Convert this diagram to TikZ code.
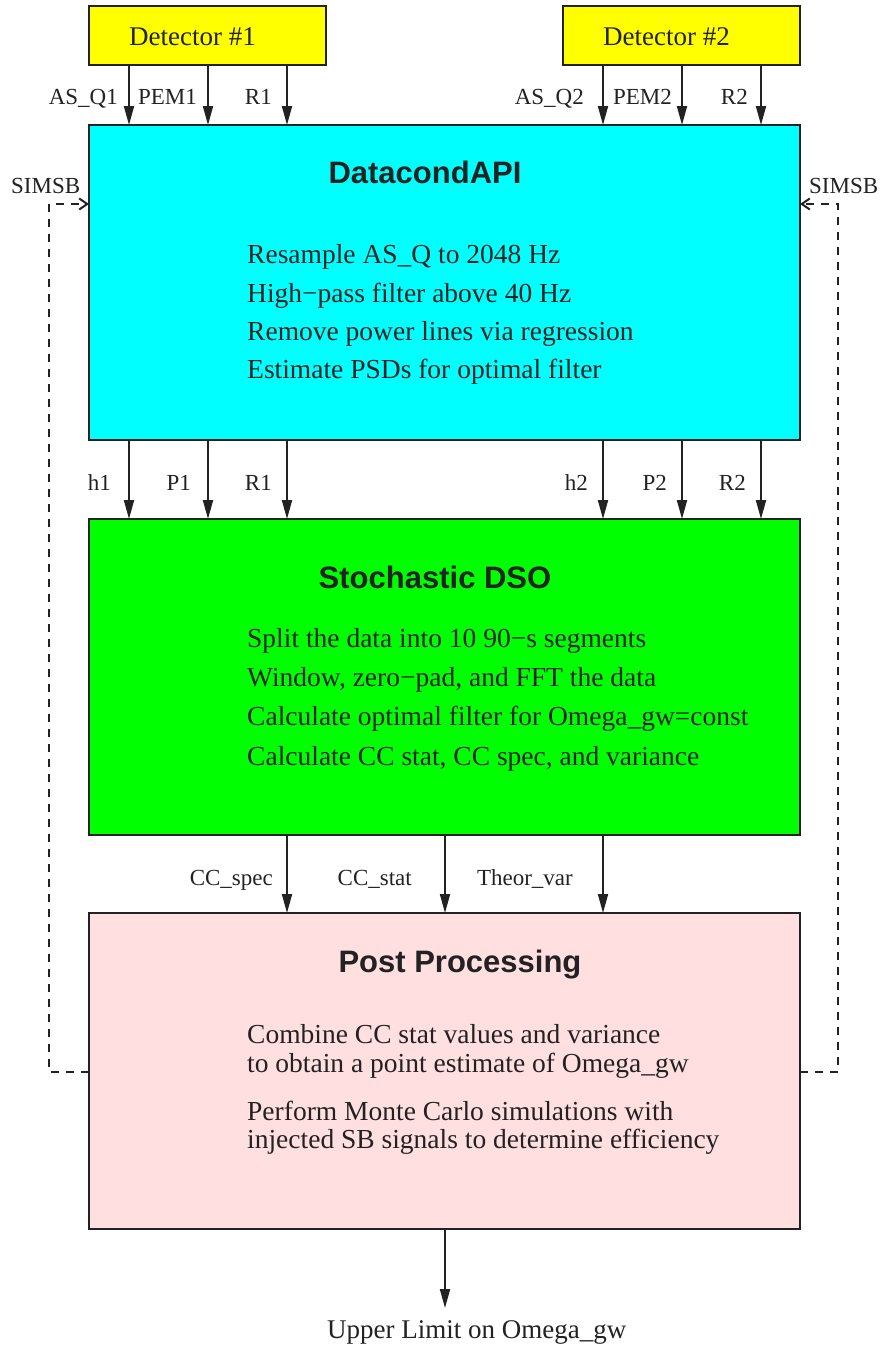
\documentclass[tikz,border=0pt]{standalone}
\usepackage{fontspec}
\setmainfont{Liberation Serif}
\newfontfamily\titlefont{Liberation Sans}
\usetikzlibrary{arrows.meta}
\definecolor{ink}{HTML}{222222}
\definecolor{cyanbox}{HTML}{00FFFF}
\definecolor{greenbox}{HTML}{00FF00}
\definecolor{pinkbox}{HTML}{FFDFE0}
\definecolor{yellowbox}{HTML}{FFFF00}
\begin{document}
\begin{tikzpicture}[x=1pt,y=-1pt,
  box/.style={draw=ink, line width=2pt, inner sep=0pt, outer sep=0pt},
  arr/.style={draw=ink, line width=2pt, -{Triangle[length=19pt,width=10pt]}},
  sim/.style={draw=ink, line width=2pt, dash pattern=on 8pt off 7pt, -{Straight Barb[length=8pt,width=11pt]}},
  lbl/.style={font=\fontsize{23}{27}\selectfont, text=ink, inner sep=0pt, anchor=base east},
  body/.style={font=\fontsize{27.5}{32}\selectfont, text=ink, inner sep=0pt, anchor=base west},
  ttl/.style={font=\titlefont\bfseries\fontsize{31}{36}\selectfont, text=ink, inner sep=0pt, anchor=base}]
\useasboundingbox (0,0) rectangle (884,1347);

% boxes
\node[box, fill=yellowbox, minimum width=237pt, minimum height=59pt] (det1) at (207.5,35.5) {};
\node[box, fill=yellowbox, minimum width=237pt, minimum height=59pt] (det2) at (681.5,35.5) {};
\node[box, fill=cyanbox, minimum width=711pt, minimum height=315pt] (dc) at (444.5,282.5) {};
\node[box, fill=greenbox, minimum width=711pt, minimum height=316pt] (dso) at (444.5,677) {};
\node[box, fill=pinkbox, minimum width=711pt, minimum height=316pt] (post) at (444.5,1071) {};

% box texts
\node[body, font=\fontsize{27}{32}\selectfont] (det1t) at (129,45) {Detector \#1};
\node[body, font=\fontsize{27}{32}\selectfont] (det2t) at (603,45) {Detector \#2};

\node[ttl] (dct) at (425,183) {DatacondAPI};
\node[body] (dc1) at (247,263) {Resample AS\_Q to 2048 Hz};
\node[body] (dc2) at (247,302) {High−pass filter above 40 Hz};
\node[body] (dc3) at (247,340) {Remove power lines via regression};
\node[body] (dc4) at (247,378) {Estimate PSDs for optimal filter};

\node[ttl] (dsot) at (435,588) {Stochastic DSO};
\node[body] (dso1) at (247,647) {Split the data into 10 90−s segments};
\node[body] (dso2) at (247,686) {Window, zero−pad, and FFT the data};
\node[body] (dso3) at (247,725) {Calculate optimal filter for Omega\_gw=const};
\node[body] (dso4) at (247,765) {Calculate CC stat, CC spec, and variance};

\node[ttl] (postt) at (460,972) {Post Processing};
\node[body] (post1) at (247,1043) {Combine CC stat values and variance};
\node[body] (post2) at (247,1072) {to obtain a point estimate of Omega\_gw};
\node[body] (post3) at (247,1120) {Perform Monte Carlo simulations with};
\node[body] (post4) at (247,1148) {injected SB signals to determine efficiency};

% x positions of connectors
\coordinate (xa) at (129,0);
\coordinate (xb) at (208,0);
\coordinate (xc) at (287,0);
\coordinate (xd) at (603,0);
\coordinate (xe) at (682,0);
\coordinate (xf) at (761,0);
\coordinate (xm) at (445,0);

% detector -> datacond
\draw[arr] (det1.south -| xa) -- (dc.north -| xa);
\draw[arr] (det1.south -| xb) -- (dc.north -| xb);
\draw[arr] (det1.south -| xc) -- (dc.north -| xc);
\draw[arr] (det2.south -| xd) -- (dc.north -| xd);
\draw[arr] (det2.south -| xe) -- (dc.north -| xe);
\draw[arr] (det2.south -| xf) -- (dc.north -| xf);
\node[lbl] (l1) at (118,104) {AS\_Q1};
\node[lbl] (l2) at (197,104) {PEM1};
\node[lbl] (l3) at (272,104) {R1};
\node[lbl] (l4) at (584,104) {AS\_Q2};
\node[lbl] (l5) at (672,104) {PEM2};
\node[lbl] (l6) at (748,104) {R2};

% datacond -> dso
\draw[arr] (dc.south -| xa) -- (dso.north -| xa);
\draw[arr] (dc.south -| xb) -- (dso.north -| xb);
\draw[arr] (dc.south -| xc) -- (dso.north -| xc);
\draw[arr] (dc.south -| xd) -- (dso.north -| xd);
\draw[arr] (dc.south -| xe) -- (dso.north -| xe);
\draw[arr] (dc.south -| xf) -- (dso.north -| xf);
\node[lbl] (m1) at (111,490) {h1};
\node[lbl] (m2) at (191,490) {P1};
\node[lbl] (m3) at (272,490) {R1};
\node[lbl] (m4) at (588,490) {h2};
\node[lbl] (m5) at (667,490) {P2};
\node[lbl] (m6) at (746,490) {R2};

% dso -> post
\draw[arr] (dso.south -| xc) -- (post.north -| xc);
\draw[arr] (dso.south -| xm) -- (post.north -| xm);
\draw[arr] (dso.south -| xd) -- (post.north -| xd);
\node[lbl] (n1) at (273,885) {CC\_spec};
\node[lbl] (n2) at (412,885) {CC\_stat};
\node[lbl] (n3) at (573,885) {Theor\_var};

% output
\coordinate (outend) at (445,1308);
\draw[arr] (post.south -| xm) -- (outend);
\node[body, font=\fontsize{27}{32}\selectfont] (out) at (327,1338) {Upper Limit on Omega\_gw};

% SIMSB feedback
\coordinate (sL1) at (49,1072);
\coordinate (sL2) at (49,204);
\coordinate (sR1) at (838,1072);
\coordinate (sR2) at (838,204);
\draw[sim] (post.west |- sL1) -- (sL1) -- (sL2) -- (dc.west |- sL2);
\draw[sim] (post.east |- sR1) -- (sR1) -- (sR2) -- (dc.east |- sR2);
\node[lbl, anchor=base west] (simL) at (11,193) {SIMSB};
\node[lbl, anchor=base west] (simR) at (809,193) {SIMSB};
\end{tikzpicture}
\end{document}
